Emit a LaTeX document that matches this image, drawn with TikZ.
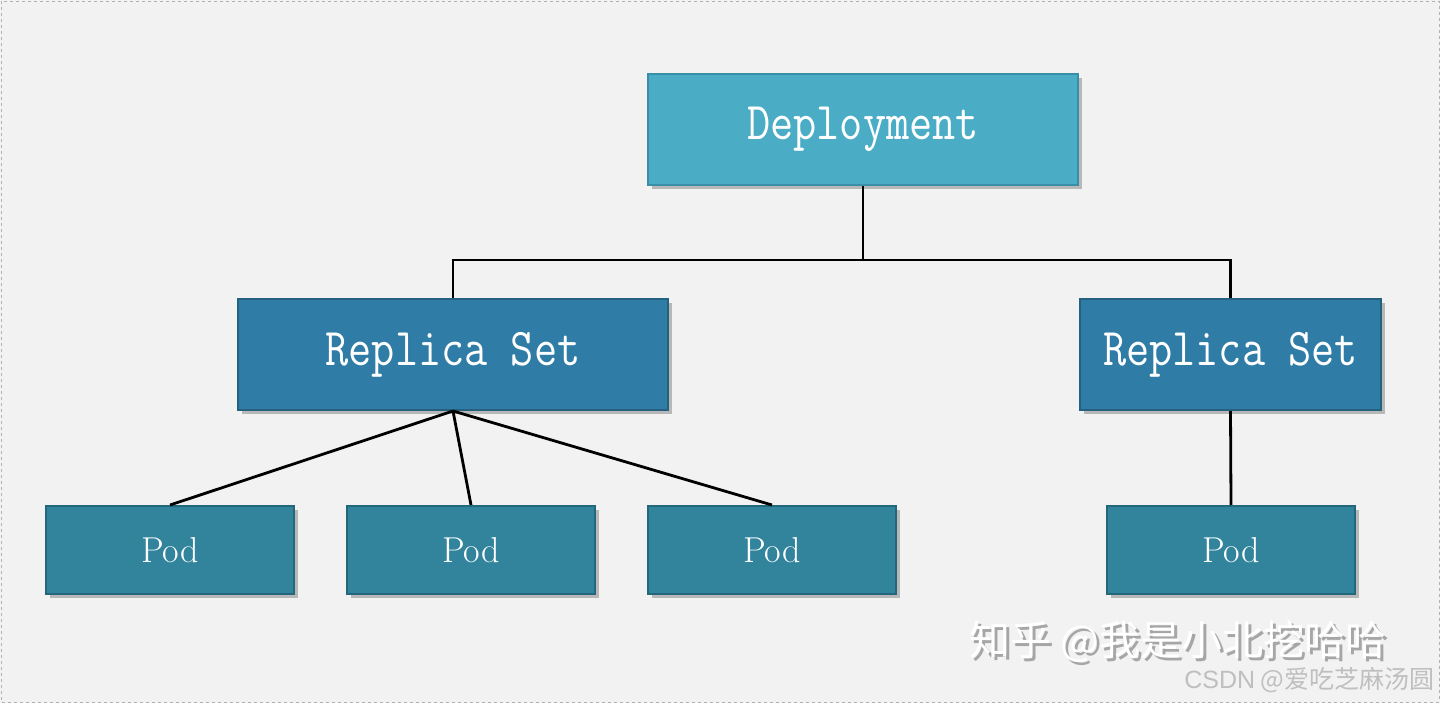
\documentclass[tikz,border=0pt]{standalone}
\usepackage{fontspec}
\newfontfamily\cjk{Noto Sans CJK SC}
\newfontfamily\csdnfont{Liberation Sans}
\usetikzlibrary{shadows}
\definecolor{bgc}{HTML}{F2F2F2}
\definecolor{depc}{HTML}{4BACC6}
\definecolor{depb}{HTML}{3A8FA8}
\definecolor{rsc}{HTML}{2F7CA6}
\definecolor{rsb}{HTML}{23617F}
\definecolor{podc}{HTML}{31849B}
\definecolor{podb}{HTML}{23687A}
\newcommand{\tallt}[1]{\scalebox{1}[1.18]{#1}}
\tikzset{
  x=1pt,y=-1pt,
  boxbase/.style={draw, line width=2pt, inner sep=0pt, text=white,
    drop shadow={shadow xshift=4pt, shadow yshift=-4pt, opacity=0.35, fill=black!70}},
  depbox/.style={boxbase, fill=depc, draw=depb, minimum width=430pt, minimum height=111pt,
    font=\ttfamily\fontsize{45}{45}\selectfont},
  rsbox/.style={boxbase, fill=rsc, draw=rsb, minimum height=111pt,
    font=\ttfamily\fontsize{45}{45}\selectfont},
  podbox/.style={boxbase, fill=podc, draw=podb, minimum width=248pt, minimum height=88pt,
    font=\rmfamily\fontsize{36}{36}\selectfont},
  link/.style={draw=black, line width=2.8pt},
  wm/.style={text=white, font=\cjk\fontsize{41}{41}\selectfont},
  wmshadow/.style={text=black!35, font=\cjk\fontsize{41}{41}\selectfont},
}
\begin{document}
\begin{tikzpicture}
\path[use as bounding box, fill=bgc] (0,0) rectangle (1440,703);
\draw[black!30, dashed, line width=0.8pt] (1,1) rectangle (1439,702);

\node[depbox] (dep) at (863,129.5) {\tallt{Deployment}};
\node[rsbox, minimum width=430pt] (rs1) at (453,354.5) {\tallt{Replica Set}};
\node[rsbox, minimum width=301pt] (rs2) at (1230.5,354.5) {\tallt{Replica Set}};
\node[podbox] (p1) at (170,550) {Pod};
\node[podbox] (p2) at (471,550) {Pod};
\node[podbox] (p3) at (772,550) {Pod};
\node[podbox] (p4) at (1231,550) {Pod};

\coordinate (j) at (863,260);
\draw[link] (dep.south) -- (j) -| (rs1.north);
\draw[link] (j) -| (rs2.north);
\draw[link] (rs1.south) -- (p1.north);
\draw[link] (rs1.south) -- (p2.north);
\draw[link] (rs1.south) -- (p3.north);
\draw[link] (rs2.south) -- (p4.north);

\node[wmshadow, anchor=west] (wms) at (968.5,644.5) {知乎 @我是小北挖哈哈};
\node[wm, anchor=west] (wmt) at (966,642) {知乎 @我是小北挖哈哈};
\node[text=black!25, font=\cjk\fontsize{25}{25}\selectfont, anchor=east] (csdn) at (1438,680) {{\csdnfont CSDN} @爱吃芝麻汤圆};
\end{tikzpicture}
\end{document}
